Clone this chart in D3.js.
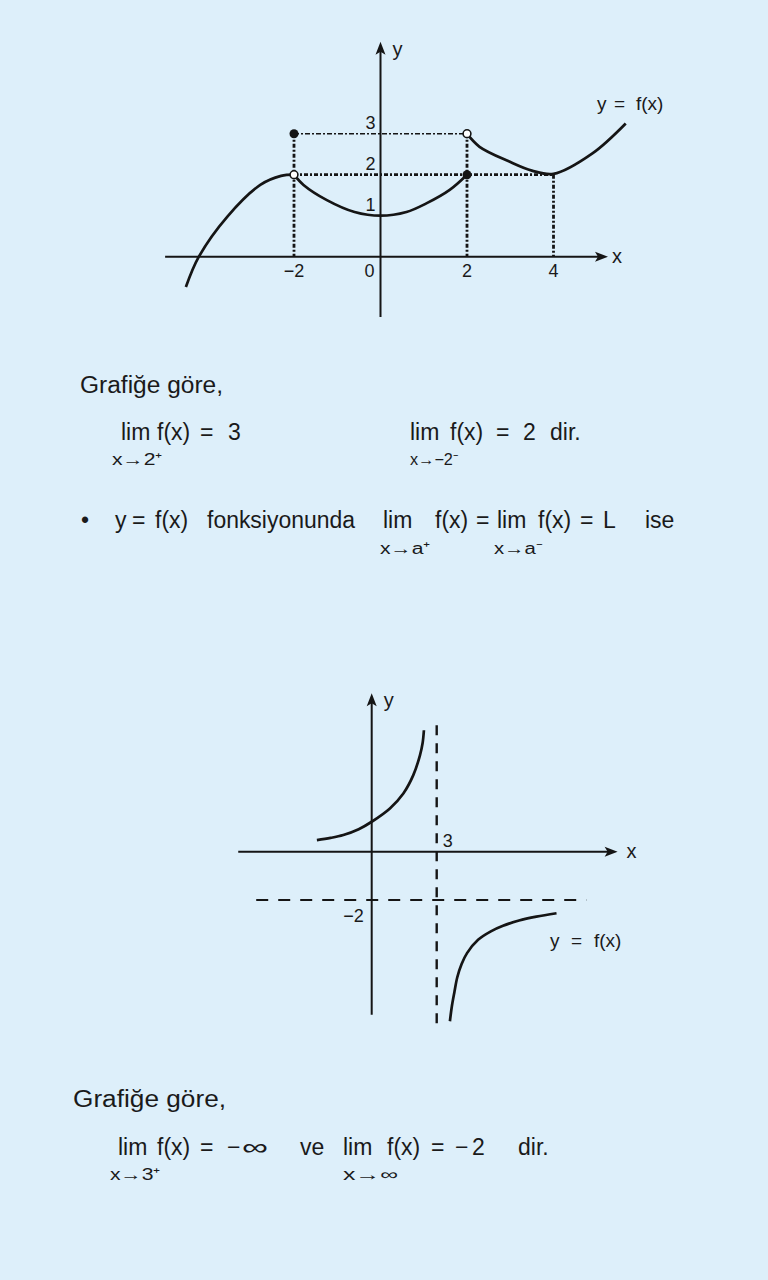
<!DOCTYPE html>
<html>
<head>
<meta charset="utf-8">
<script src="https://cdn.jsdelivr.net/npm/d3@7"></script>
<style>
  html, body { margin: 0; padding: 0; background: #ddeffa; }
  svg { display: block; }
  text { font-family: "Liberation Sans", Arial, Helvetica, sans-serif; fill: #1a1a1a; }
</style>
</head>
<body>
<script>
// ---------------- DATA ----------------
// Top graph: y = f(x), piecewise
const topLeftBranch   = [[-4.5,-0.74],[-4.2,0],[-3.54,0.98],[-2.78,1.75],[-2.3,1.97],[-2,2]];
const topMiddleBranch = [[-2,2],[-1.78,1.75],[-1.24,1.38],[-0.6,1.09],[0,1.0],[0.6,1.09],[1.06,1.3],[1.6,1.63],[2,2]];
const topRightBranch  = [[2,3],[2.29,2.68],[2.98,2.32],[3.5,2.1],[4,2.02],[4.9,2.52],[5.67,3.25]];
const topClosedDots   = [[-2,3],[2,2]];
const topOpenDots     = [[-2,2],[2,3]];
const topXTicks       = [-2, 2, 4];
const topXTickLabels  = ["\u22122", "2", "4"];
const topYTicks       = [1, 2, 3];
const topYTickLabels  = ["1", "2", "3"];
const topOriginLabel  = "0";
const topXExtent      = [-4.98, 5.26];
const topYExtent      = [-1.47, 5.24];
// guide lines: [x1,y1,x2,y2]
const topGuidesThin   = [[-2,3,2,3]];
const topGuidesHeavy  = [[-2,2,4,2],[-2,3,-2,0],[2,3,2,0],[4,2,4,0]];
const topCurveLabel   = [["y",597],["=",614],["f(x)",636]];

// Bottom graph: y = f(x) with asymptotes
const botUpperBranch  = [[-2.53,0.48],[-1.9,0.57],[-1.31,0.69],[-0.6,0.93],[0,1.24],[0.84,1.79],[1.46,2.41],[1.92,3.17],[2.23,4.0],[2.35,4.5],[2.41,5.03]];
const botLowerBranch  = [[3.61,-7.02],[3.7,-6.4],[3.82,-5.8],[3.95,-5.2],[4.15,-4.65],[4.4,-4.2],[4.91,-3.65],[5.5,-3.3],[6.06,-3.07],[6.8,-2.85],[7.6,-2.69],[8.53,-2.55]];
const botVertAsym     = 3;
const botHorizAsym    = -2;
const botVertAsymSpan = [5.24, -7.37];
const botHorizAsymSpan= [-5.33, 9.91];
const botXExtent      = [-6.16, 11.35];
const botYExtent      = [-6.75, 6.56];
const botXTickLabel   = "3";
const botYTickLabel   = "\u22122";
const botCurveLabel   = [["y",550],["=",571],["f(x)",594]];

// Text lines: tokens [text, x, (width)]
const textTopHeading  = [["Grafiğe göre,", 80, 143]];
const textTopLimits   = [["lim",121],["f(x)",157],["=",200],["3",228],["lim",410],["f(x)",450],["=",496],["2",523],["dir.",550]];
const textTopSubs     = [["x\u21922\u207A",112,50],["x\u2192\u22122\u207B",410,48]];
const textBullet      = [["\u2022",81],["y",115],["=",132],["f(x)",155],["fonksiyonunda",207,148],["lim",383],["f(x)",435],["=",476],["lim",497],["f(x)",538],["=",580],["L",603],["ise",645]];
const textBulletSubs  = [["x\u2192a\u207A",380,50],["x\u2192a\u207B",494,48]];
const textBotHeading  = [["Grafiğe göre,", 73, 153]];
const textBotLimits   = [["lim",118],["f(x)",157],["=",200],["\u2212",227],["\u221E",242,26],["ve",300],["lim",343],["f(x)",387],["=",431],["\u2212",455],["2",472],["dir.",518]];
const textBotSubs     = [["x\u21923\u207A",110,50],["x\u2192\u221E",343,55]];

// ---------------- DRAW ----------------
const W = 768, H = 1280;
const svg = d3.select("body").append("svg").attr("width", W).attr("height", H);
svg.append("rect").attr("width", W).attr("height", H).attr("fill", "#ddeffa");

const INK = "#151515";

function arrowHead(g, x, y, dir) {
  const L = 13, w = 5;
  let pts;
  if (dir === "right") pts = [[x, y], [x - L, y - w], [x - L + 3, y], [x - L, y + w]];
  else pts = [[x, y], [x - w, y + L], [x, y + L - 3], [x + w, y + L]];
  g.append("path").attr("d", "M" + pts.map(p => p.join(",")).join("L") + "Z").attr("fill", INK);
}

function drawAxes(g, xs, ys, xExt, yExt) {
  g.append("line").attr("x1", xs(xExt[0])).attr("x2", xs(xExt[1]) - 6)
    .attr("y1", ys(0)).attr("y2", ys(0)).attr("stroke", INK).attr("stroke-width", 2);
  arrowHead(g, xs(xExt[1]), ys(0), "right");
  g.append("line").attr("x1", xs(0)).attr("x2", xs(0))
    .attr("y1", ys(yExt[0])).attr("y2", ys(yExt[1]) + 6).attr("stroke", INK).attr("stroke-width", 2);
  arrowHead(g, xs(0), ys(yExt[1]), "up");
}

// ---- Top chart
const xT = d3.scaleLinear().domain([-2, 2]).range([294, 467]);
const yT = d3.scaleLinear().domain([0, 3]).range([256.7, 133.7]);
const gT = svg.append("g");

gT.selectAll("line.thin").data(topGuidesThin).join("line")
  .attr("x1", d => xT(d[0])).attr("y1", d => yT(d[1])).attr("x2", d => xT(d[2])).attr("y2", d => yT(d[3]))
  .attr("stroke", INK).attr("stroke-width", 1.5).attr("stroke-dasharray", "5 2 2 2");
gT.selectAll("line.heavy").data(topGuidesHeavy).join("line")
  .attr("x1", d => xT(d[0])).attr("y1", d => yT(d[1])).attr("x2", d => xT(d[2])).attr("y2", d => yT(d[3]))
  .attr("stroke", INK).attr("stroke-width", 2.8).attr("stroke-dasharray", "4 2 2 2");

drawAxes(gT, xT, yT, topXExtent, topYExtent);

const lineT = d3.line().x(d => xT(d[0])).y(d => yT(d[1])).curve(d3.curveCatmullRom.alpha(0.5));
[topLeftBranch, topMiddleBranch, topRightBranch].forEach(b => {
  gT.append("path").attr("d", lineT(b)).attr("fill", "none").attr("stroke", INK).attr("stroke-width", 2.7);
});

gT.selectAll("circle.closed").data(topClosedDots).join("circle")
  .attr("cx", d => xT(d[0])).attr("cy", d => yT(d[1])).attr("r", 4.5).attr("fill", INK);
gT.selectAll("circle.open").data(topOpenDots).join("circle")
  .attr("cx", d => xT(d[0])).attr("cy", d => yT(d[1])).attr("r", 3.9)
  .attr("fill", "#ffffff").attr("stroke", INK).attr("stroke-width", 1.6);

gT.selectAll("text.xt").data(topXTicks).join("text")
  .attr("x", d => xT(d)).attr("y", yT(0) + 20).attr("text-anchor", "middle")
  .attr("font-size", 18).text((d, i) => topXTickLabels[i]);
gT.append("text").attr("x", xT(0) - 11).attr("y", yT(0) + 20).attr("text-anchor", "middle")
  .attr("font-size", 18).text(topOriginLabel);
gT.selectAll("text.yt").data(topYTicks).join("text")
  .attr("x", xT(0) - 10).attr("y", d => yT(d) - 5).attr("text-anchor", "middle")
  .attr("font-size", 18).text((d, i) => topYTickLabels[i]);
gT.append("text").attr("x", xT(topXExtent[1]) + 4).attr("y", yT(0) + 6).attr("font-size", 20).text("x");
gT.append("text").attr("x", xT(0) + 12).attr("y", yT(topYExtent[1]) + 14).attr("font-size", 20).text("y");
topCurveLabel.forEach(t => gT.append("text").attr("x", t[1]).attr("y", 110).attr("font-size", 19).text(t[0]));

// ---- Bottom chart
const xB = d3.scaleLinear().domain([0, 3]).range([371.7, 436.7]);
const yB = d3.scaleLinear().domain([0, -2]).range([851.7, 900]);
const gB = svg.append("g");

gB.append("line").attr("x1", xB(botVertAsym)).attr("x2", xB(botVertAsym))
  .attr("y1", yB(botVertAsymSpan[0])).attr("y2", yB(botVertAsymSpan[1]))
  .attr("stroke", INK).attr("stroke-width", 2.4).attr("stroke-dasharray", "10 8");
gB.append("line").attr("x1", xB(botHorizAsymSpan[0])).attr("x2", xB(botHorizAsymSpan[1]))
  .attr("y1", yB(botHorizAsym)).attr("y2", yB(botHorizAsym))
  .attr("stroke", INK).attr("stroke-width", 2).attr("stroke-dasharray", "12 10");

drawAxes(gB, xB, yB, botXExtent, botYExtent);

const lineB = d3.line().x(d => xB(d[0])).y(d => yB(d[1])).curve(d3.curveCatmullRom.alpha(0.5));
[botUpperBranch, botLowerBranch].forEach(b => {
  gB.append("path").attr("d", lineB(b)).attr("fill", "none").attr("stroke", INK).attr("stroke-width", 2.7);
});

gB.append("text").attr("x", xB(botVertAsym) + 6).attr("y", yB(0) - 5).attr("font-size", 18).text(botXTickLabel);
gB.append("text").attr("x", xB(0) - 8).attr("y", yB(botHorizAsym) + 22).attr("text-anchor", "end")
  .attr("font-size", 18).text(botYTickLabel);
gB.append("text").attr("x", xB(botXExtent[1]) + 9).attr("y", yB(0) + 6).attr("font-size", 20).text("x");
gB.append("text").attr("x", xB(0) + 12).attr("y", yB(botYExtent[1]) + 14).attr("font-size", 20).text("y");
botCurveLabel.forEach(t => gB.append("text").attr("x", t[1]).attr("y", 947).attr("font-size", 19).text(t[0]));

// ---- Text blocks
function tokens(list, baseline, size) {
  list.forEach(t => {
    const el = svg.append("text").attr("x", t[1]).attr("y", baseline).attr("font-size", size).text(t[0]);
    if (t[2]) el.attr("textLength", t[2]).attr("lengthAdjust", "spacingAndGlyphs");
  });
}
tokens(textTopHeading, 393, 23);
tokens(textTopLimits, 440, 23);
tokens(textTopSubs, 465, 16);
tokens(textBullet, 528, 23);
tokens(textBulletSubs, 554, 16);
tokens(textBotHeading, 1107, 23);
tokens(textBotLimits, 1155, 23);
tokens(textBotSubs, 1180, 16);
</script>
</body>
</html>
